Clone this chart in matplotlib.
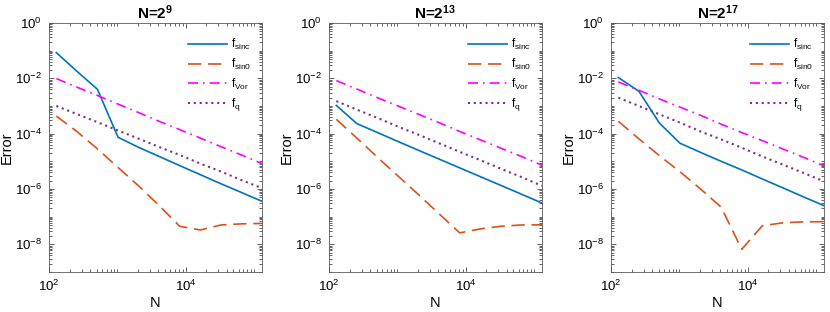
import matplotlib
matplotlib.use('Agg')
import matplotlib.pyplot as plt
from matplotlib.ticker import FixedLocator, NullFormatter

plt.rcParams['font.family'] = ['Liberation Sans', 'DejaVu Sans']
plt.rcParams['mathtext.default'] = 'regular'

# N sample sizes (2^7 ... 2^17)
n_vals = [128, 256, 512, 1024, 2048, 4096, 8192, 16384, 32768, 65536, 131072]

titles = ['N=2$^{9}$', 'N=2$^{13}$', 'N=2$^{17}$']
x_ticks = [1e2, 1e4]
x_ticklabels = ['10$^{2}$', '10$^{4}$']
y_ticks = [1e-8, 1e-6, 1e-4, 1e-2, 1e0]
y_ticklabels = ['10$^{-8}$', '10$^{-6}$', '10$^{-4}$', '10$^{-2}$', '10$^{0}$']

# panel N=2^9
sinc_9 = [8.5e-2, 1.8e-2, 4.0e-3, 7.4e-5, 3.2e-5, 1.5e-5, 7.0e-6, 3.3e-6, 1.55e-6, 7.5e-7, 3.6e-7]
sin0_9 = [4.3e-4, 1.2e-4, 2.8e-5, 6.0e-6, 1.3e-6, 2.5e-7, 4.5e-8, 3.3e-8, 5.0e-8, 5.5e-8, 5.7e-8]
vor_9 = [9.8e-3, 4.8e-3, 2.4e-3, 1.17e-3, 5.8e-4, 2.8e-4, 1.4e-4, 6.9e-5, 3.4e-5, 1.7e-5, 8.3e-6]
q_9 = [1.0e-3, 5.1e-4, 2.6e-4, 1.3e-4, 6.6e-5, 3.3e-5, 1.7e-5, 8.3e-6, 4.3e-6, 2.1e-6, 1.07e-6]

# panel N=2^13
sinc_13 = [1.05e-3, 2.3e-4, 1.1e-4, 5.2e-5, 2.5e-5, 1.2e-5, 5.8e-6, 2.8e-6, 1.35e-6, 6.5e-7, 3.1e-7]
sin0_13 = [3.3e-4, 6.9e-5, 1.4e-5, 2.95e-6, 6.2e-7, 1.26e-7, 2.6e-8, 3.6e-8, 4.5e-8, 5.0e-8, 5.1e-8]
vor_13 = [8.3e-3, 4.1e-3, 2.0e-3, 1.0e-3, 5.0e-4, 2.5e-4, 1.2e-4, 6.0e-5, 3.0e-5, 1.5e-5, 7.2e-6]
q_13 = [1.5e-3, 7.4e-4, 3.7e-4, 1.8e-4, 9.1e-5, 4.5e-5, 2.2e-5, 1.1e-5, 5.4e-6, 2.7e-6, 1.3e-6]

# panel N=2^17
sinc_17 = [1.07e-2, 3.4e-3, 2.4e-4, 4.5e-5, 2.1e-5, 1.0e-5, 4.9e-6, 2.3e-6, 1.1e-6, 5.2e-7, 2.5e-7]
sin0_17 = [2.8e-4, 6.5e-5, 1.6e-5, 4.2e-6, 1.0e-6, 2.2e-7, 6.6e-9, 4.7e-8, 6.0e-8, 6.5e-8, 6.6e-8]
vor_17 = [7.4e-3, 3.7e-3, 1.8e-3, 9.1e-4, 4.6e-4, 2.2e-4, 1.1e-4, 5.6e-5, 2.8e-5, 1.4e-5, 6.9e-6]
q_17 = [2.0e-3, 1.0e-3, 5.0e-4, 2.5e-4, 1.2e-4, 6.2e-5, 3.1e-5, 1.5e-5, 7.6e-6, 3.8e-6, 1.9e-6]

panels = [
    (sinc_9, sin0_9, vor_9, q_9),
    (sinc_13, sin0_13, vor_13, q_13),
    (sinc_17, sin0_17, vor_17, q_17),
]

labels = ['f$_{sinc}$', 'f$_{sin0}$', 'f$_{Vor}$', 'f$_{q}$']
colors = ['#0072BD', '#D95319', '#FF00FF', '#7E2F8E']
styles = ['-', (0, (8, 4)), (0, (6, 3, 1, 3)), (0, (1, 1.8))]
widths = [1.2, 1.2, 1.2, 1.5]

# minor ticks: every 1..9 of each decade
minor_x = [m * 10 ** e for e in range(2, 6) for m in range(1, 10) if m * 10 ** e <= 131072]
minor_y = [m * 10.0 ** e for e in range(-9, 0) for m in range(1, 10)]

fig = plt.figure(figsize=(8.3, 3.12), dpi=100)
lefts = [49, 329, 611]

for i, series in enumerate(panels):
    ax = fig.add_axes([lefts[i] / 830, 1 - 272 / 312, 213 / 830, 249 / 312])
    for ys, lab, col, ls, lw in zip(series, labels, colors, styles, widths):
        ax.plot(n_vals, ys, color=col, linestyle=ls, linewidth=lw, label=lab)
    ax.set_xscale('log')
    ax.set_yscale('log')
    ax.set_xlim(100, 131072)
    ax.set_ylim(1e-9, 1)
    ax.set_xticks(x_ticks)
    ax.set_xticklabels(x_ticklabels)
    ax.set_yticks(y_ticks)
    ax.set_yticklabels(y_ticklabels)
    ax.xaxis.set_minor_locator(FixedLocator(minor_x))
    ax.yaxis.set_minor_locator(FixedLocator(minor_y))
    ax.xaxis.set_minor_formatter(NullFormatter())
    ax.yaxis.set_minor_formatter(NullFormatter())
    ax.tick_params(which='both', direction='in', top=True, right=True,
                   color='0.15', labelsize=9.5)
    ax.tick_params(which='major', length=3.5, width=0.5, pad=5)
    ax.tick_params(which='minor', length=2, width=0.5)
    for sp in ax.spines.values():
        sp.set_color('0.35')
        sp.set_linewidth(0.6)
    ax.set_title(titles[i], fontsize=11, fontweight='bold', pad=3)
    ax.set_xlabel('N', fontsize=10.5, labelpad=1)
    ax.set_ylabel('Error', fontsize=10.5, labelpad=1)
    ax.legend(loc='upper right', bbox_to_anchor=(1.0, 0.985), frameon=False,
              fontsize=8.5, handlelength=3.3, labelspacing=0.38,
              handletextpad=0.35, borderaxespad=0.5)

fig.savefig('out.png', dpi=100)
